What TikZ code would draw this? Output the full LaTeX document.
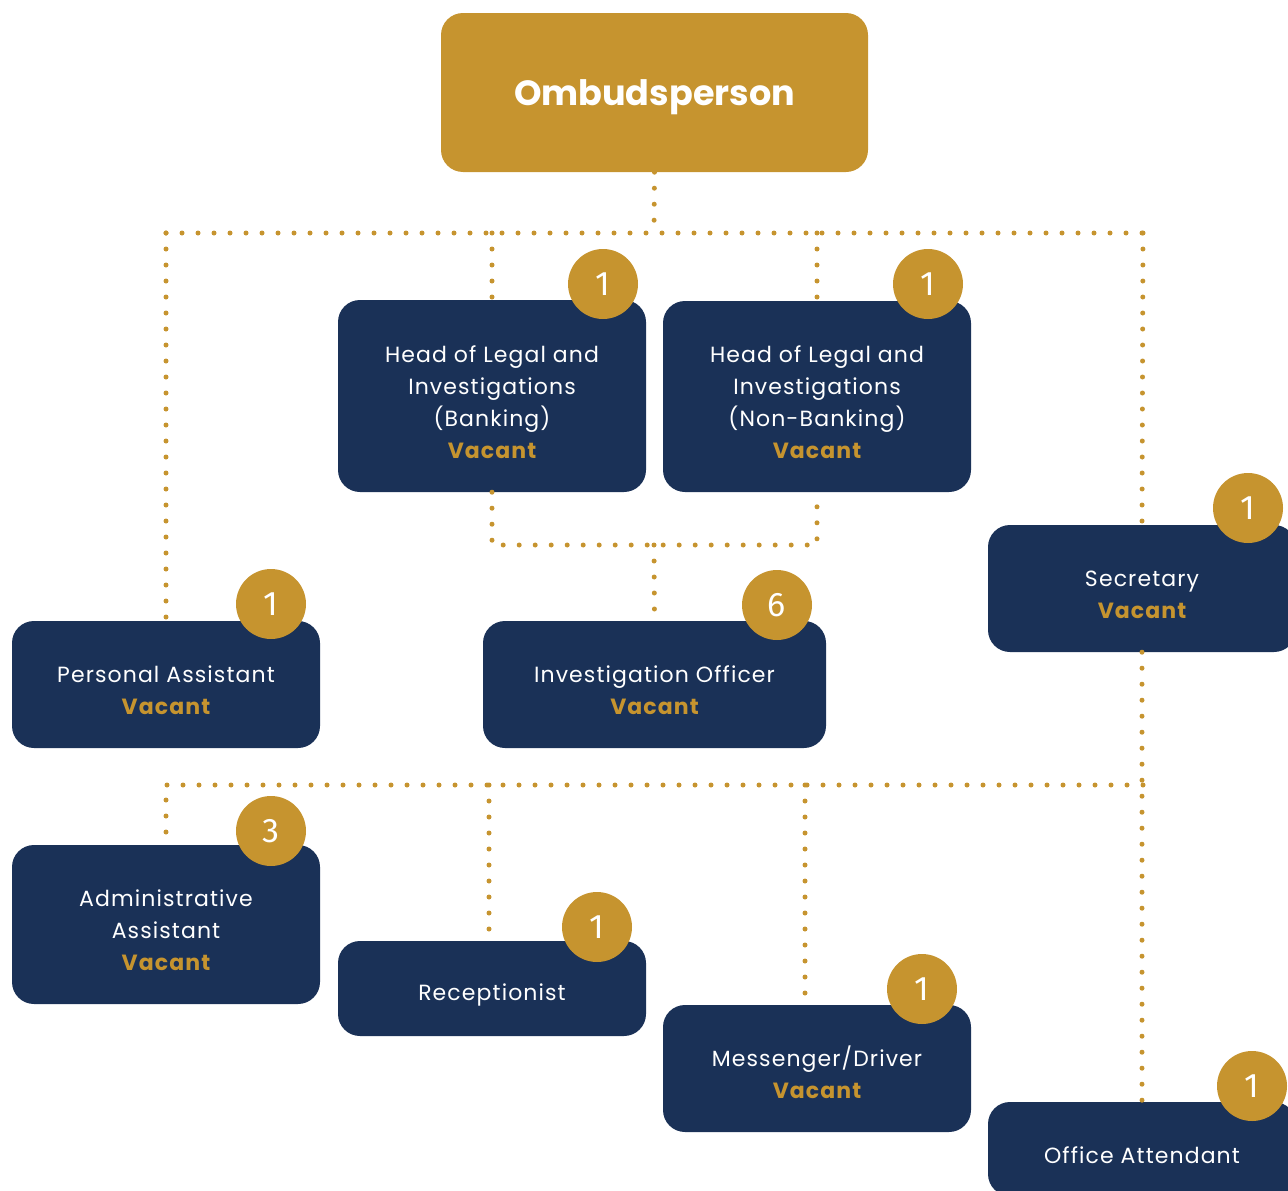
\documentclass[tikz,border=0pt]{standalone}
\usepackage{fontspec}
\setmainfont{Poppins}[LetterSpace=5]
\newfontfamily\digitfont{Fira Sans}
\newfontfamily\headfont{Poppins}
\definecolor{gold}{HTML}{C6942F}
\definecolor{navy}{HTML}{1A3157}
\newcommand\vacancy{\textbf{\textcolor{gold}{Vacant}}}
% extra room above the first line, to sit the text a little low in its box
\newcommand\lift{\rule{0pt}{29pt}}

\begin{document}
\begin{tikzpicture}[x=1pt,y=-1pt,
  post/.style={rectangle, rounded corners=22pt, fill=navy, text=white,
    align=center, minimum width=308pt, inner sep=0pt,
    font=\fontsize{22}{32}\selectfont},
  badge/.style={circle, fill=gold, text=white, minimum size=70pt,
    inner sep=0pt, font=\digitfont\fontsize{34}{34}\selectfont},
  link/.style={draw=gold, line width=5pt, line cap=round,
    dash pattern=on 0pt off 16pt},
]
\useasboundingbox (0,0) rectangle (1288,1191);

% top post
\node[rectangle, rounded corners=22pt, fill=gold, text=white,
  minimum width=427pt, minimum height=159pt, inner sep=0pt,
  font=\headfont\bfseries\fontsize{35}{35}\selectfont,
  execute at begin node={\rule{0pt}{36pt}}] (omb) at (654.5,92.5) {Ombudsperson};

% posts
\node[post, minimum height=192pt] (hb) at (492,396)
  {\lift Head of Legal and\\Investigations\\(Banking)\\\vacancy};
\node[post, minimum height=191pt] (hn) at (817,396.5)
  {\lift Head of Legal and\\Investigations\\(Non-Banking)\\\vacancy};
\node[post, minimum height=127pt] (sec) at (1142,588.5) {\lift Secretary\\\vacancy};
\node[post, minimum height=127pt] (pa) at (166,684.5) {\lift Personal Assistant\\\vacancy};
\node[post, minimum width=343pt, minimum height=127pt] (io) at (654.5,684.5)
  {\lift Investigation Officer\\\vacancy};
\node[post, minimum height=159pt] (aa) at (166,924.5)
  {\lift Administrative\\Assistant\\\vacancy};
\node[post, minimum height=95pt] (rec) at (492,988.5) {\lift Receptionist};
\node[post, minimum height=127pt] (md) at (817,1068.5) {\lift Messenger/Driver\\\vacancy};
\node[post, minimum height=94pt] (oa) at (1142,1149) {\lift Office Attendant};

% head-count badges
\node[badge] (nhb) at (603,284) {1};
\node[badge] (nhn) at (928,284) {1};
\node[badge] (nsec) at (1248,508) {1};
\node[badge] (npa) at (271,604) {1};
\node[badge] (nio) at (777,605) {6};
\node[badge] (naa) at (271,831) {3};
\node[badge] (nrec) at (597,927) {1};
\node[badge] (nmd) at (922,989) {1};
\node[badge] (noa) at (1252,1086) {1};

% reporting lines
\coordinate (top) at (654,233);
\coordinate (busL) at (166,233);
\coordinate (busR) at (1143,233);
\draw[link] (omb.south) -- (top);
\draw[link] (busL) -- (busR);
\draw[link] (busL) -- (pa.north);
\draw[link] (hb.north |- top) -- (hb.north);
\draw[link] (hn.north |- top) -- (hn.north);
\draw[link] (busR) -- (sec.north);

\coordinate (mid) at (654,545);
\draw[link] (hb.south) |- (mid) -| (hn.south);
\draw[link] (mid) -- (io.north);

\coordinate (low) at (1143,785);
\coordinate (lowL) at (166,785);
\coordinate (rectap) at (489,785);
\coordinate (mdtap) at (805,785);
\draw[link] (sec.south) -- (oa.north);
\draw[link] (low) -- (lowL) -- (aa.north);
\draw[link] (rectap) -- (rectap |- rec.north);
\draw[link] (mdtap) -- (mdtap |- md.north);
\end{tikzpicture}
\end{document}
